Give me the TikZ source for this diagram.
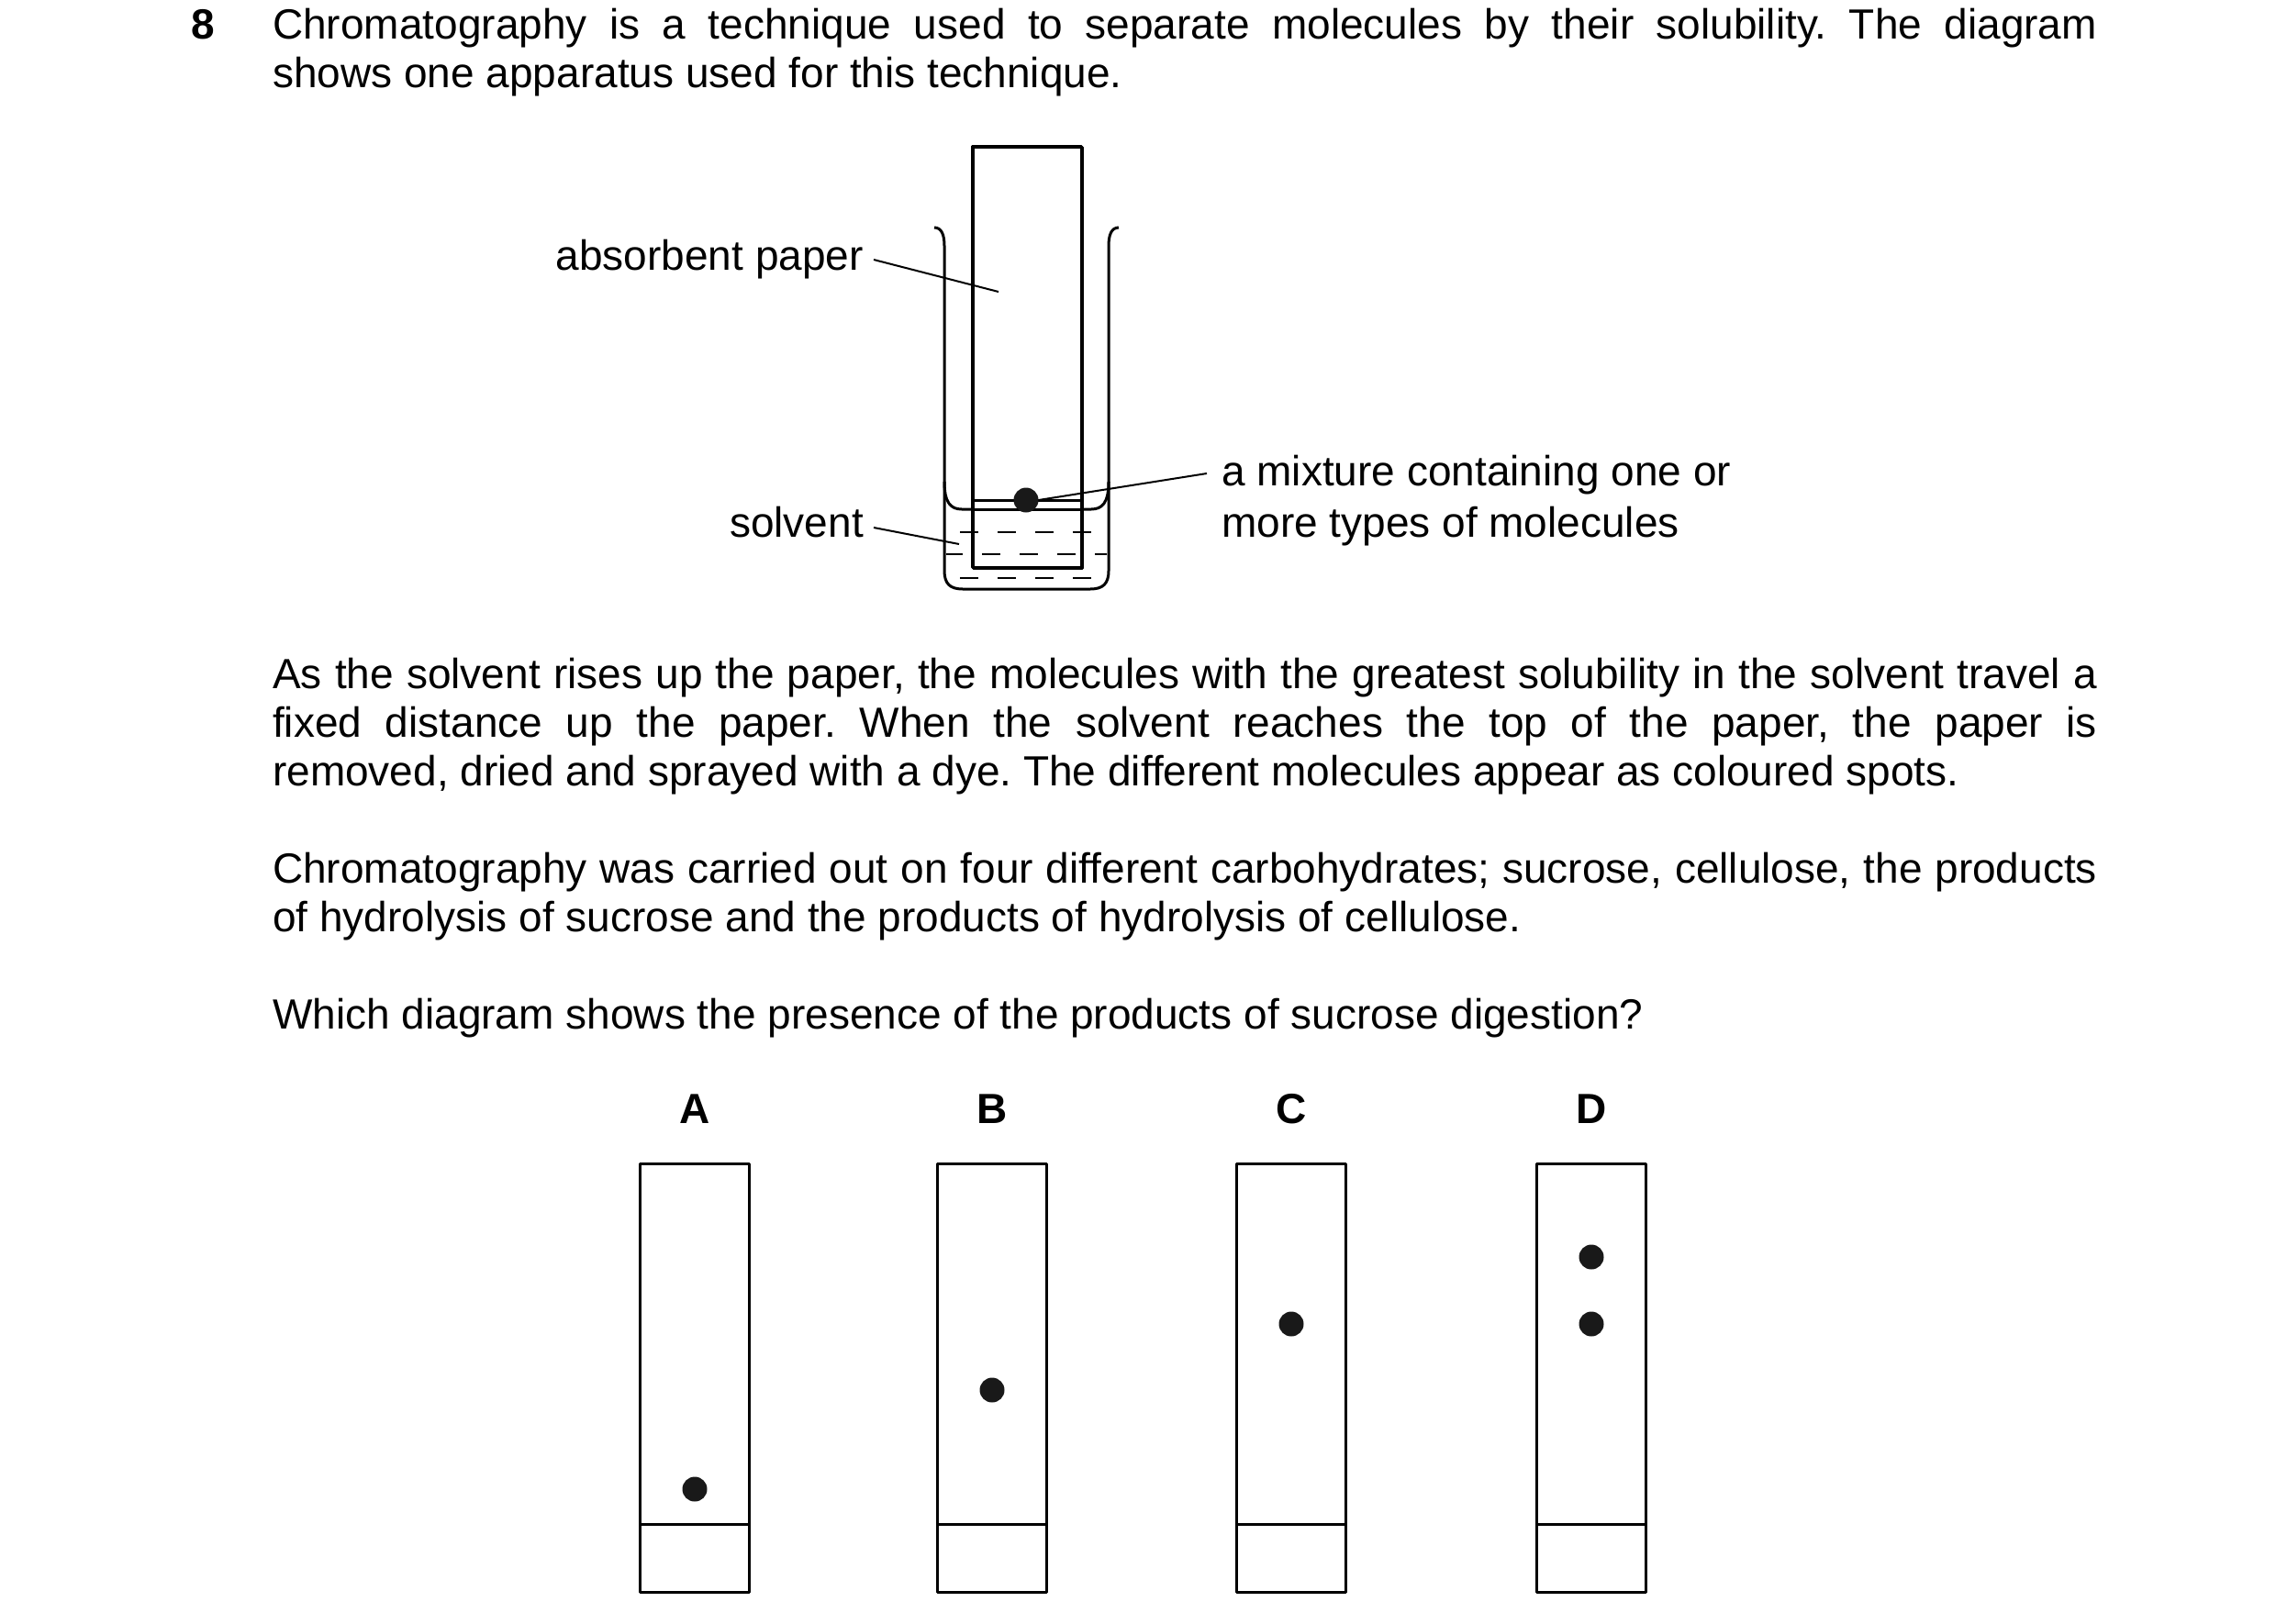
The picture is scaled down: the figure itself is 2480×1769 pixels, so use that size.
\documentclass[tikz,border=0pt]{standalone}
\usepackage{fontspec}
\setmainfont{Liberation Sans}
\frenchspacing
\begin{document}
\begin{tikzpicture}[x=1pt,y=-1pt,
  txt/.style={inner sep=0pt,font=\fontsize{46}{53}\selectfont},
  ln/.style={line width=3pt,line join=round},
  thin/.style={line width=2pt},
  spot/.style={circle,fill=black!90,inner sep=0pt,minimum size=27pt},
  dsh/.style={line width=2.2pt,dash pattern=on 20pt off 21pt}]
\useasboundingbox (0,0) rectangle (2480,1769);
% header
\node[txt,anchor=base west,font=\fontsize{46}{53}\selectfont\bfseries] (n8) at (208,43) {8};
\node[txt,anchor=base west,text width=1988pt,align=justify] (q1) at (297,43) {Chromatography is a technique used to separate molecules by their solubility. The diagram\linebreak shows one apparatus used for this technique.};
% apparatus
\draw[ln] (1018,248) .. controls (1026,248) and (1029,256) .. (1029,268) -- (1029,622) .. controls (1029,636) and (1035,642) .. (1049,642) -- (1188,642) .. controls (1202,642) and (1208,636) .. (1208,622) -- (1208,268) .. controls (1208,256) and (1211,248) .. (1219,248);
\draw[ln] (1029,525) .. controls (1029,548) and (1036,555) .. (1048,555) -- (1189,555) .. controls (1201,555) and (1208,548) .. (1208,525);
\node[draw,ln,fill=white,minimum width=119pt,minimum height=459pt,inner sep=0pt,anchor=north west] (paper) at (1059,159) {};
\draw[ln] (1059,555) -- (1178,555);
\draw[ln] (1059,545) -- (1178,545);
\begin{scope}
\clip (1031,560) rectangle (1206,640);
\draw[dsh] (1046,580) -- (1208,580);
\draw[dsh] (1029,604) -- (1208,604);
\draw[dsh] (1046,630) -- (1208,630);
\end{scope}
\draw[ln] (1059,159) rectangle (1178,618);
\node[spot] (mix) at (1118,545) {};
% labels
\node[txt,anchor=base east] (lab1) at (941,294) {absorbent paper};
\coordinate (p1) at (1088,318);
\draw[thin] (952,283) -- (p1);
\node[txt,anchor=base east] (lab2) at (941,585) {solvent};
\coordinate (p2) at (1045,593);
\draw[thin] (952,575) -- (p2);
\node[txt,anchor=base west] (lab3) at (1331,529) {a mixture containing one or};
\node[txt,anchor=base west] (lab3b) at (1331,585) {more types of molecules};
\draw[thin] (mix.east) -- (1315,516);
% paragraphs
\node[txt,anchor=base west,text width=1988pt,align=justify] (pa1) at (297,750) {As the solvent rises up the paper, the molecules with the greatest solubility in the solvent travel a\linebreak fixed distance up the paper. When the solvent reaches the top of the paper, the paper is\linebreak removed, dried and sprayed with a dye. The different molecules appear as coloured spots.};
\node[txt,anchor=base west,text width=1988pt,align=justify] (pa2) at (297,962) {Chromatography was carried out on four different carbohydrates; sucrose, cellulose, the products\linebreak of hydrolysis of sucrose and the products of hydrolysis of cellulose.};
\node[txt,anchor=base west] (pq) at (297,1121) {Which diagram shows the presence of the products of sucrose digestion?};
% options
\foreach \L/\x in {A/757,B/1081,C/1407,D/1734}{
  \node[txt,anchor=base,font=\fontsize{46}{53}\selectfont\bfseries] (l\L) at (\x,1224) {\L};
  \node[draw,ln,minimum width=119pt,minimum height=467pt,inner sep=0pt,anchor=north] (r\L) at (\x,1267) {};
  \draw[ln] (\x-59.5,1661) -- (\x+59.5,1661);
}
\node[spot] (sA) at (757,1623) {};
\node[spot] (sB) at (1081,1515) {};
\node[spot] (sC) at (1407,1443) {};
\node[spot] (sD1) at (1734,1370) {};
\node[spot] (sD2) at (1734,1443) {};
\end{tikzpicture}
\end{document}
